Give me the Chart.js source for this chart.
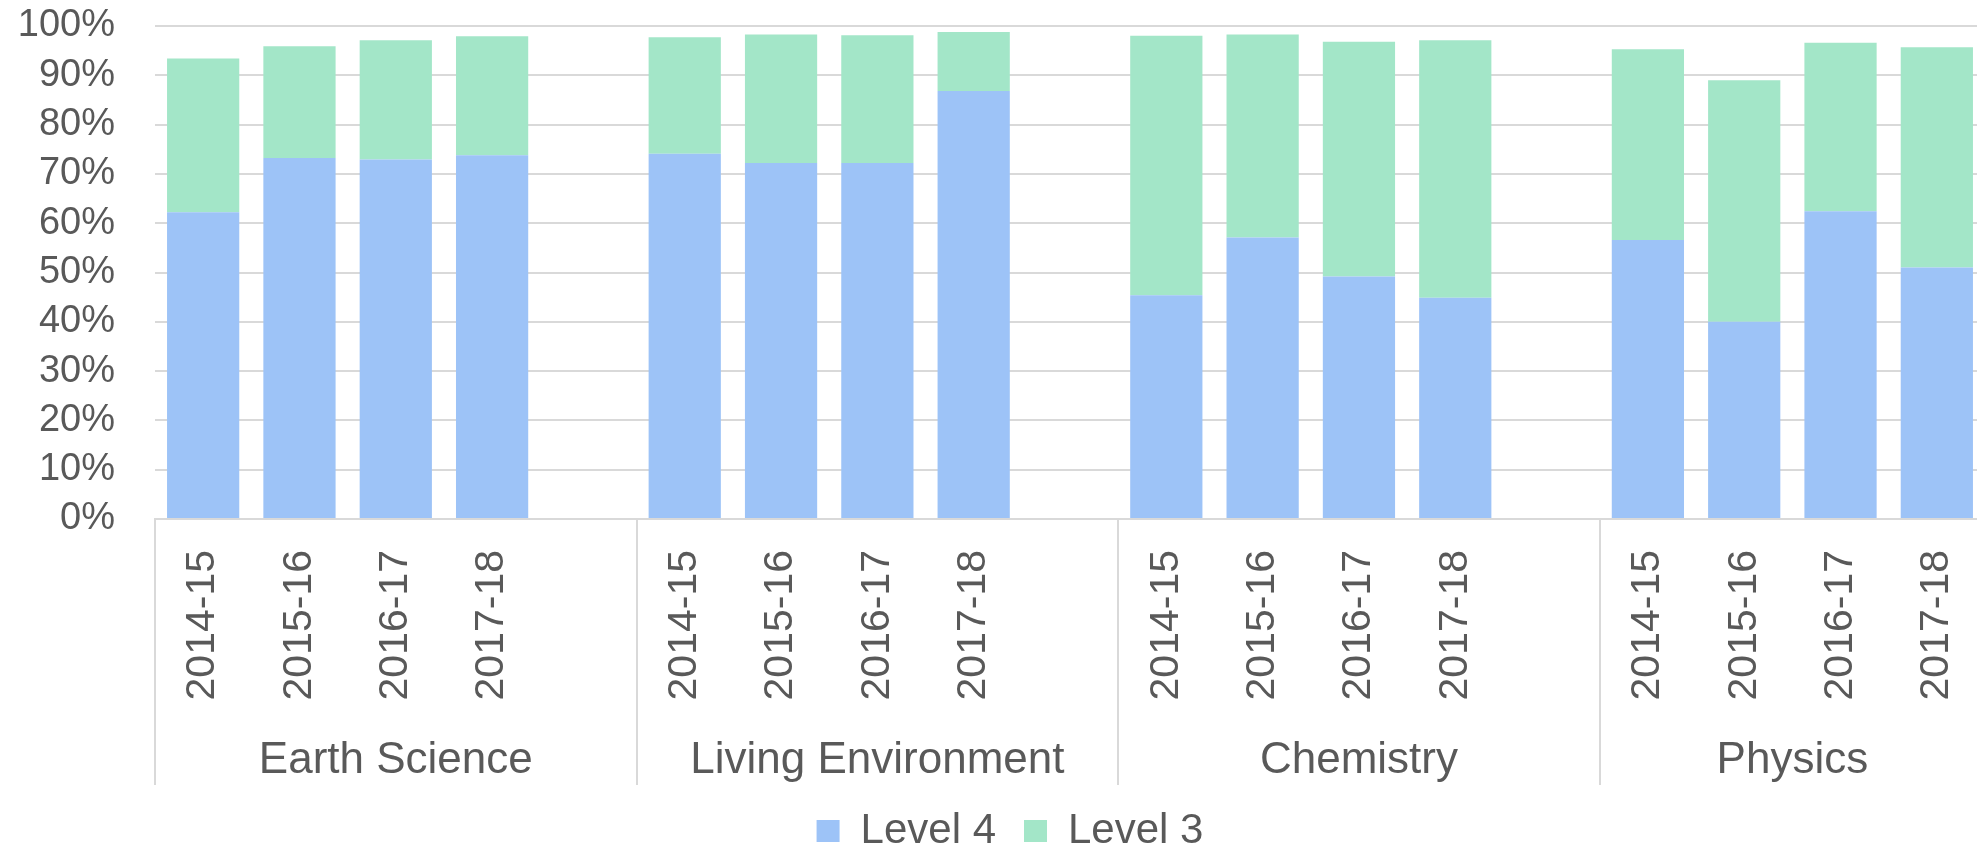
<!DOCTYPE html>
<html>
<head>
<meta charset="utf-8">
<script src="https://cdn.jsdelivr.net/npm/chart.js@4/dist/chart.umd.min.js"></script>
<style>
  html, body { margin: 0; padding: 0; background: #fff; overflow: hidden; }
  #wrap { width: 2020px; height: 862px; }
</style>
</head>
<body>
<div id="wrap"><canvas id="myChart"></canvas></div>
<script>
// values (percent of students)
const subjects = ['Earth Science', 'Living Environment', 'Chemistry', 'Physics'];
const years = ['2014-15', '2015-16', '2016-17', '2017-18'];
const level4 = [62.2, 73.2, 72.9, 73.8,   74.1, 72.2, 72.2, 86.8,   45.4, 57.1, 49.2, 44.9,   56.6, 40.0, 62.4, 51.0];
const level3 = [31.2, 22.7, 24.2, 24.1,   23.6, 26.1, 25.9, 12.0,   52.6, 41.2, 47.6, 52.2,   38.7, 49.0, 34.2, 44.7];
const yTicks = [0, 10, 20, 30, 40, 50, 60, 70, 80, 90, 100];

const textColor = '#595959';
const lineColor = '#d9d9d9';

// lay out the slots like Excel does: one empty slot between subjects
const labels = [];
const data4 = [];
const data3 = [];
const groupCenters = [];
const groupEdges = [-0.5];
subjects.forEach((s, g) => {
  if (g > 0) { labels.push(''); data4.push(null); data3.push(null); }
  const start = labels.length;
  years.forEach((y, i) => {
    labels.push(y);
    data4.push(level4[g * years.length + i]);
    data3.push(level3[g * years.length + i]);
  });
  const end = labels.length - 1;
  const last = g === subjects.length - 1;
  groupCenters.push((start + end + (last ? 0 : 1)) / 2);
  groupEdges.push(last ? end + 0.5 : end + 1.5);
});

Chart.defaults.font.family = "'Liberation Sans', Arial, sans-serif";
Chart.defaults.color = textColor;

// vertical lines that split the subjects under the axis
const groupDividers = {
  id: 'groupDividers',
  afterDraw(chart) {
    const x = chart.scales.x;
    const g = chart.scales.xg;
    const ctx = chart.ctx;
    ctx.save();
    ctx.strokeStyle = lineColor;
    ctx.lineWidth = 2;
    groupEdges.forEach(v => {
      const px = Math.round(x.getPixelForValue(v));
      ctx.beginPath();
      ctx.moveTo(px, chart.chartArea.bottom);
      ctx.lineTo(px, g.bottom + 3);
      ctx.stroke();
    });
    ctx.restore();
  }
};

const ctx = document.getElementById('myChart').getContext('2d');

new Chart(ctx, {
  type: 'bar',
  data: {
    labels: labels,
    datasets: [
      {
        label: 'Level 4',
        data: data4,
        backgroundColor: '#9dc3f7'
      },
      {
        label: 'Level 3',
        data: data3,
        backgroundColor: '#a3e6c8'
      }
    ]
  },
  options: {
    responsive: true,
    maintainAspectRatio: false,
    animation: false,
    datasets: {
      bar: { barPercentage: 0.75, categoryPercentage: 1 }
    },
    layout: {
      padding: { top: 26, left: 0, right: 0, bottom: 0 }
    },
    scales: {
      x: {
        stacked: true,
        grid: { display: false, drawTicks: false },
        border: { color: lineColor, width: 2 },
        ticks: {
          autoSkip: false,
          minRotation: 90,
          maxRotation: 90,
          padding: 31,
          font: { size: 41 }
        },
        afterFit: (scale) => {
          scale.height = 181;
          scale.paddingLeft = 0;
          scale.paddingRight = 35;
        }
      },
      xg: {
        type: 'linear',
        position: 'bottom',
        offset: false,
        min: -0.5,
        max: 18.5,
        grid: { display: false, drawTicks: false },
        border: { display: false },
        ticks: {
          autoSkip: false,
          maxRotation: 0,
          padding: 34,
          font: { size: 44 },
          callback: (value, index) => subjects[index]
        },
        afterBuildTicks: (scale) => {
          scale.ticks = groupCenters.map(v => ({ value: v }));
        },
        afterFit: (scale) => {
          scale.height = 82;
          scale.paddingLeft = 0;
          scale.paddingRight = 0;
        }
      },
      y: {
        stacked: true,
        min: 0,
        max: 100,
        grid: { color: lineColor, lineWidth: 2, drawTicks: false },
        border: { display: false },
        ticks: {
          autoSkip: false,
          padding: 40,
          font: { size: 38 },
          callback: (v) => v + '%'
        },
        afterBuildTicks: (scale) => {
          scale.ticks = yTicks.map(v => ({ value: v }));
        },
        afterFit: (scale) => {
          scale.width = 155;
          scale.paddingTop = 0;
          scale.paddingBottom = 0;
        }
      }
    },
    plugins: {
      legend: {
        position: 'bottom',
        labels: {
          boxWidth: 23,
          boxHeight: 22,
          padding: 28,
          font: { size: 42 }
        }
      },
      tooltip: { enabled: false }
    }
  },
  plugins: [groupDividers]
});
</script>
</body>
</html>
